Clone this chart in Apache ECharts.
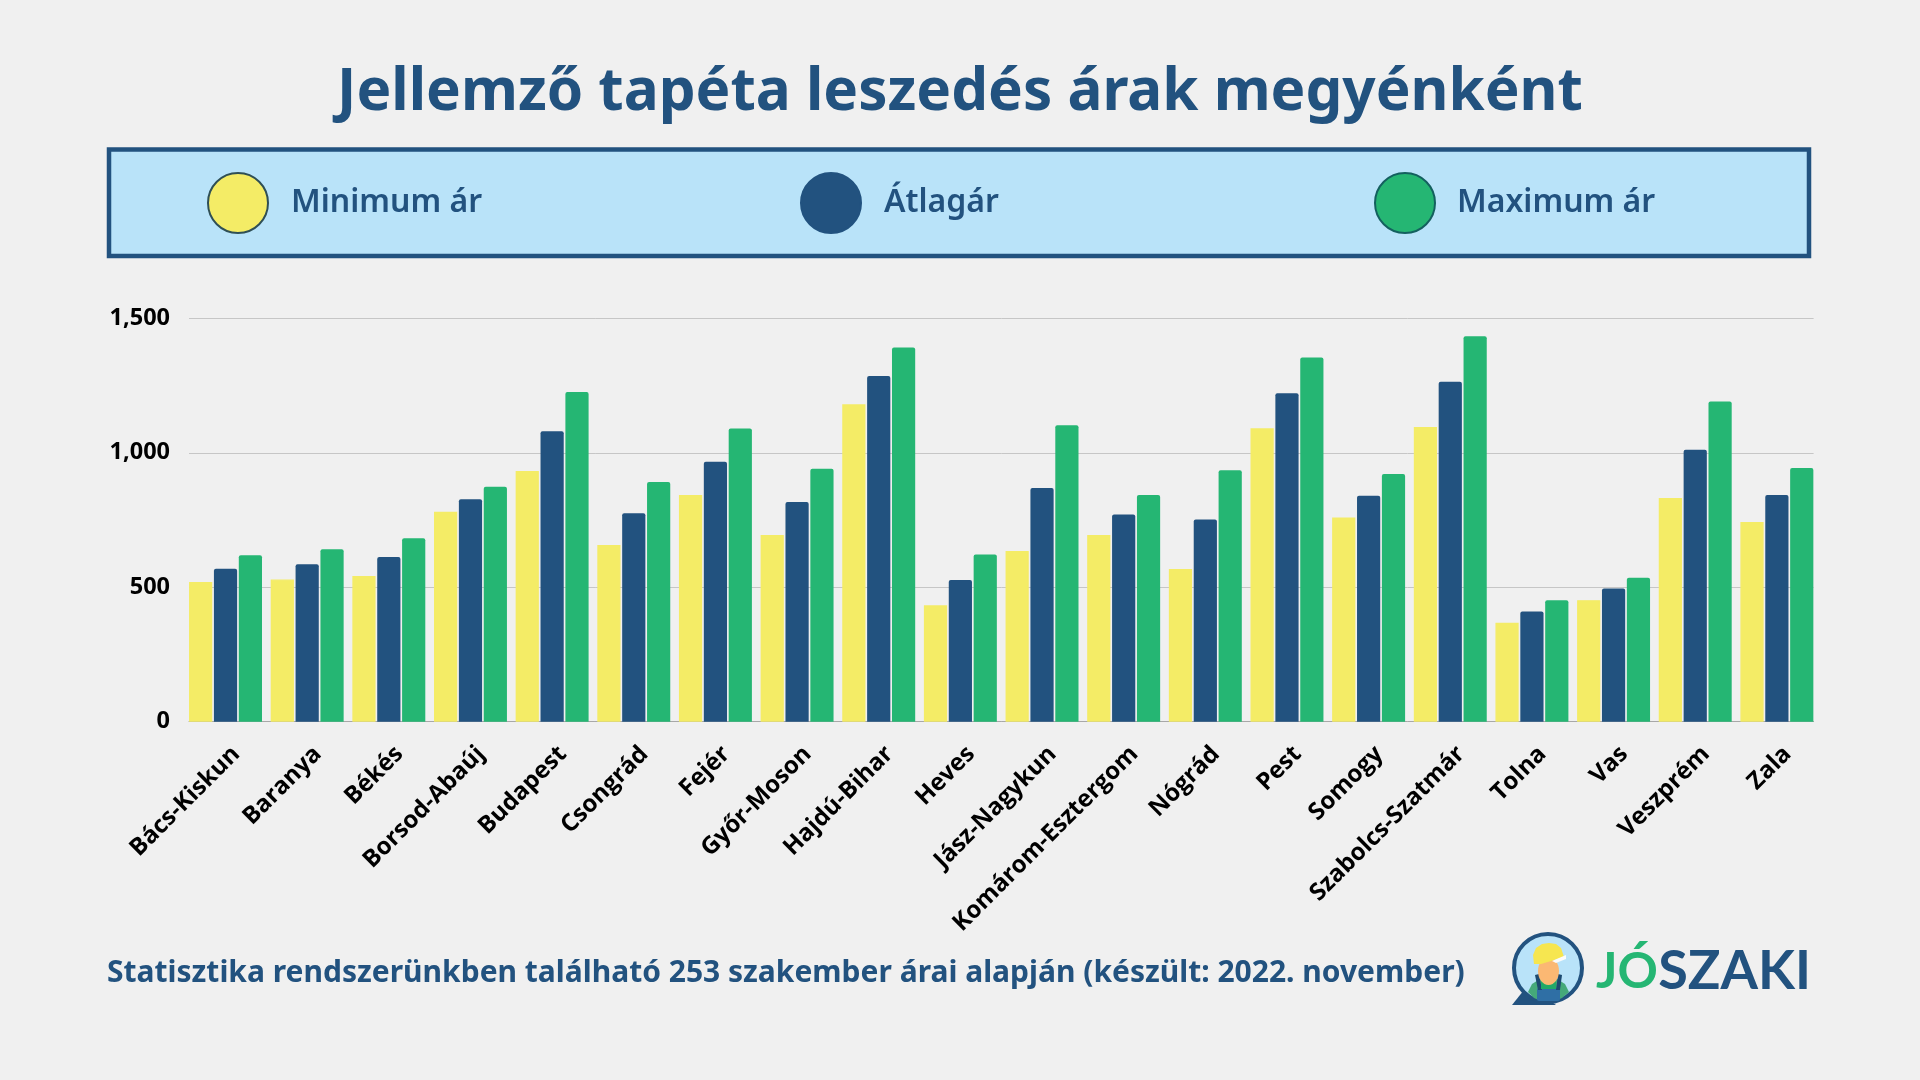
<!DOCTYPE html>
<html>
<head>
<meta charset="utf-8">
<style>html,body{margin:0;padding:0;background:#f0f0f0}#c{width:1920px;height:1080px}</style>
<script src="https://cdn.jsdelivr.net/npm/echarts@6/dist/echarts.min.js"></script>
</head>
<body>
<div id="c"></div>
<script>
const titleText = 'Jellemző tapéta leszedés árak megyénként';
const footerText = 'Statisztika rendszerünkben található 253 szakember árai alapján (készült: 2022. november)';
const categories = ['Bács-Kiskun','Baranya','Békés','Borsod-Abaúj','Budapest','Csongrád','Fejér','Győr-Moson','Hajdú-Bihar','Heves','Jász-Nagykun','Komárom-Esztergom','Nógrád','Pest','Somogy','Szabolcs-Szatmár','Tolna','Vas','Veszprém','Zala'];
const minValues = [519,529,542,781,932,657,843,694,1180,433,635,694,568,1091,759,1096,368,452,832,743];
const avgValues = [569,585,612,827,1080,775,967,817,1285,527,869,770,752,1221,840,1264,410,495,1011,843];
const maxValues = [619,641,682,874,1226,891,1090,941,1391,622,1102,843,935,1354,921,1433,452,535,1191,943];
const yMax = 1500, yStep = 500;
const NAVY = '#22527f', YEL = '#f4ec66', GRN = '#25b673', SKY = '#b9e3f9';
const UI = '"Noto Sans"', AX = '"Open Sans"', LOGO = 'Lato';

function legendOf(name, left, color, border, gap){
  return {
    left, top: 172, itemWidth: 60, itemHeight: 60, padding: 0,
    data: [{name, icon: 'circle', itemStyle: {color, borderColor: border, borderWidth: 2}}],
    selectedMode: false,
    textStyle: {color: NAVY, fontFamily: UI, fontWeight: 600, fontSize: 32, padding: [8,0,0,gap]}
  };
}
const bar = (name, data, color, extra) => ({
  name, type: 'bar', data, xAxisIndex: 0, yAxisIndex: 0, barWidth: 23.2, barGap: '7.2%', animation: false,
  itemStyle: Object.assign({color}, extra)
});

const chart = echarts.init(document.getElementById('c'), null, {renderer: 'canvas'});
chart.setOption({
  backgroundColor: '#f0f0f0',
  animation: false,
  title: [
    {text: titleText, left: 'center', top: 64, padding: 0, textStyle: {color: NAVY, fontFamily: UI, fontWeight: 700, fontSize: 58.4}},
    {text: footerText, left: 107, top: 958, padding: 0, textStyle: {color: NAVY, fontFamily: UI, fontWeight: 700, fontSize: 30}}
  ],
  legend: [
    legendOf('Minimum ár', 207, YEL, '#2f4f55', 18),
    legendOf('Átlagár', 800, NAVY, NAVY, 18),
    legendOf('Maximum ár', 1374, GRN, '#14605f', 17)
  ],
  grid: [
    {left: 184.7, width: 1633, top: 318.3, height: 403.4},
    {left: 189, width: 1624.6, top: 318.3, height: 403.4}
  ],
  xAxis: [
    {type: 'category', gridIndex: 0, data: categories, axisLine: {show: false}, axisTick: {show: false},
     axisLabel: {interval: 0, rotate: 45, margin: 18, verticalAlign: 'top', padding: [3,0,0,0], color: '#000', fontFamily: AX, fontWeight: 700, fontSize: 24}},
    {type: 'value', gridIndex: 1, min: 0, max: 1, axisLabel: {show: false}, axisTick: {show: false}, splitLine: {show: false},
     axisLine: {show: true, lineStyle: {color: '#a8a8a8', width: 1}}}
  ],
  yAxis: [
    {type: 'value', gridIndex: 0, min: 0, max: yMax, interval: yStep, show: false, splitLine: {show: false}},
    {type: 'value', gridIndex: 1, min: 0, max: yMax, interval: yStep, axisLine: {show: false}, axisTick: {show: false},
     splitLine: {lineStyle: {color: '#c6c6c6', width: 1}},
     axisLabel: {margin: 19, padding: [8,0,0,0], color: '#000', fontFamily: AX, fontWeight: 700, fontSize: 23.5}}
  ],
  series: [
    bar('Minimum ár', minValues, YEL, {borderColor: YEL, borderWidth: 1.4}),
    bar('Átlagár', avgValues, NAVY, {borderRadius: [2,2,0,0]}),
    bar('Maximum ár', maxValues, GRN, {borderRadius: [2,2,0,0]})
  ],
  graphic: [
    {type: 'rect', z: -1, shape: {x: 109, y: 149.5, width: 1700, height: 106.5}, style: {fill: SKY, stroke: NAVY, lineWidth: 4.5}},
    // logo bubble
    {type: 'polygon', z: 1, shape: {points: [[1512,1005],[1528,985],[1556,1005]]}, style: {fill: NAVY}},
    {type: 'circle', z: 1, shape: {cx: 1548, cy: 968, r: 34}, style: {fill: SKY, stroke: NAVY, lineWidth: 4}},
    {type: 'polygon', z: 2, shape: {points: [[1528,992],[1532,984],[1540,979],[1557,979],[1565,984],[1569,992],[1562,998],[1555,1001],[1541,1001],[1534,998]]}, style: {fill: '#45a97a'}},
    {type: 'rect', z: 3, shape: {x: 1537, y: 988, width: 23, height: 13, r: 2}, style: {fill: '#2f6fa5'}},
    {type: 'polygon', z: 3, shape: {points: [[1535,975],[1539,974],[1542,990],[1538,990]]}, style: {fill: '#1d4a70'}},
    {type: 'polygon', z: 3, shape: {points: [[1558,974],[1562,975],[1560,990],[1556,990]]}, style: {fill: '#1d4a70'}},
    {type: 'rect', z: 3, shape: {x: 1541, y: 978, width: 15, height: 11}, style: {fill: '#22a968'}},
    {type: 'ellipse', z: 4, shape: {cx: 1548.5, cy: 971, rx: 10.5, ry: 14}, style: {fill: '#fbb873'}},
    {type: 'polygon', z: 5, shape: {points: [[1534,964],[1533,955],[1536,948],[1542,944],[1549,943],[1556,944],[1561,948],[1564,957],[1551,961],[1541,964]]}, style: {fill: '#f6e650'}},
    {type: 'polygon', z: 5, shape: {points: [[1552,961],[1566,955],[1566,959],[1556,963]]}, style: {fill: '#fbfbfb'}},
    // logo wordmark
    {type: 'text', z: 2, x: 1596, y: 972, style: {text: 'JÓ', fill: GRN, fontFamily: LOGO, fontWeight: 700, fontSize: 50, verticalAlign: 'middle', textAlign: 'left'}},
    {type: 'text', z: 2, x: 1811, y: 972, style: {text: 'SZAKI', fill: NAVY, fontFamily: LOGO, fontWeight: 700, fontSize: 54, verticalAlign: 'middle', textAlign: 'right'}}
  ]
});
</script>
</body>
</html>
